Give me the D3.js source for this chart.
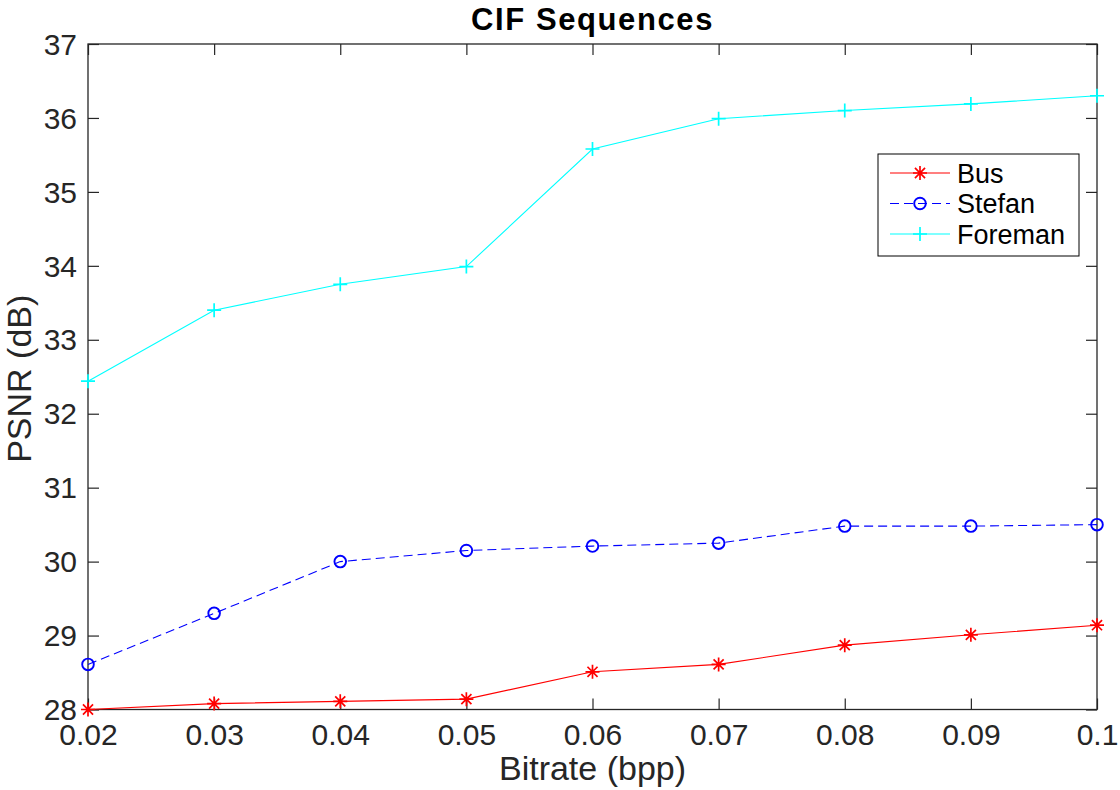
<!DOCTYPE html>
<html>
<head>
<meta charset="utf-8">
<script src="https://cdn.jsdelivr.net/npm/d3@7"></script>
<style>
  html, body { margin: 0; padding: 0; background: #fff; }
  svg text { font-family: "Liberation Sans", Arial, Helvetica, sans-serif; }
</style>
</head>
<body>
<div id="chart"></div>
<script>
// Values
const bitrates = [0.02, 0.03, 0.04, 0.05, 0.06, 0.07, 0.08, 0.09, 0.1];
const busPsnr = [28.0, 28.08, 28.11, 28.14, 28.51, 28.61, 28.87, 29.01, 29.14];
const stefanPsnr = [28.61, 29.3, 30.0, 30.15, 30.21, 30.25, 30.48, 30.48, 30.5];
const foremanPsnr = [32.44, 33.4, 33.75, 33.99, 35.58, 35.99, 36.1, 36.19, 36.3];
const seriesNames = ['Bus', 'Stefan', 'Foreman'];
const xTickLabels = ['0.02', '0.03', '0.04', '0.05', '0.06', '0.07', '0.08', '0.09', '0.1'];
const yTicks = [28, 29, 30, 31, 32, 33, 34, 35, 36, 37];

const W = 1120, H = 790;
const margin = { top: 44, right: 23, bottom: 80.5, left: 88 };
const width = W - margin.left - margin.right;
const height = H - margin.top - margin.bottom;
const AXIS_COLOR = '#262626';
const TICK_LEN = 11;

const series = [
  { name: seriesNames[0], values: busPsnr, color: '#ff0000', dash: null, marker: 'star' },
  { name: seriesNames[1], values: stefanPsnr, color: '#0000ff', dash: '9,5', marker: 'circle' },
  { name: seriesNames[2], values: foremanPsnr, color: '#00ffff', dash: null, marker: 'plus' }
];

const svgRoot = d3.select('#chart').append('svg')
  .attr('width', W).attr('height', H);

const svg = svgRoot.append('g')
  .attr('transform', `translate(${margin.left},${margin.top})`);

const x = d3.scaleLinear().domain([0.02, 0.1]).range([0, width]);
const y = d3.scaleLinear().domain([28, 37]).range([height, 0]);

// inward ticks on all four sides, MATLAB style
function styleAxis(g) {
  g.select('.domain').remove();
  g.selectAll('.tick line').attr('stroke', AXIS_COLOR).attr('stroke-width', 1.2);
  g.selectAll('.tick text')
    .attr('fill', AXIS_COLOR)
    .style('font-size', '30px');
}

svg.append('g')
  .attr('transform', `translate(0,${height})`)
  .call(d3.axisBottom(x).tickValues(bitrates).tickFormat((d, i) => xTickLabels[i])
    .tickSizeInner(-TICK_LEN).tickSizeOuter(0).tickPadding(TICK_LEN + 3))
  .call(styleAxis)
  .selectAll('.tick text').attr('dy', '0.71em');

svg.append('g')
  .call(d3.axisTop(x).tickValues(bitrates).tickFormat('')
    .tickSizeInner(-TICK_LEN).tickSizeOuter(0))
  .call(styleAxis);

svg.append('g')
  .call(d3.axisLeft(y).tickValues(yTicks).tickFormat(d3.format('d'))
    .tickSizeInner(-TICK_LEN).tickSizeOuter(0).tickPadding(TICK_LEN))
  .call(styleAxis)
  .selectAll('.tick text').attr('dy', '0.34em');

svg.append('g')
  .attr('transform', `translate(${width},0)`)
  .call(d3.axisRight(y).tickValues(yTicks).tickFormat('')
    .tickSizeInner(-TICK_LEN).tickSizeOuter(0))
  .call(styleAxis);

svg.append('rect')
  .attr('width', width).attr('height', height)
  .attr('fill', 'none')
  .attr('stroke', AXIS_COLOR)
  .attr('stroke-width', 1.3);

// markers
function drawMarker(sel, type, color) {
  if (type === 'star') {
    const r = 7, d = r * 0.72;
    sel.append('path')
      .attr('d', `M${-r},0H${r}M0,${-r}V${r}M${-d},${-d}L${d},${d}M${-d},${d}L${d},${-d}`)
      .attr('stroke', color).attr('stroke-width', 1.7).attr('fill', 'none');
  } else if (type === 'circle') {
    sel.append('circle').attr('r', 5.8)
      .attr('stroke', color).attr('stroke-width', 1.9).attr('fill', 'none');
  } else {
    const r = 7;
    sel.append('path')
      .attr('d', `M${-r},0H${r}M0,${-r}V${r}`)
      .attr('stroke', color).attr('stroke-width', 1.7).attr('fill', 'none');
  }
}

const line = d3.line()
  .x((d, i) => x(bitrates[i]))
  .y(d => y(d));

series.forEach(s => {
  svg.append('path')
    .attr('d', line(s.values))
    .attr('fill', 'none')
    .attr('stroke', s.color)
    .attr('stroke-width', 1.1)
    .attr('stroke-dasharray', s.dash);

  svg.selectAll(null)
    .data(s.values)
    .join('g')
    .attr('transform', (d, i) => `translate(${x(bitrates[i])},${y(d)})`)
    .each(function () { drawMarker(d3.select(this), s.marker, s.color); });
});

// title and axis labels
svgRoot.append('text')
  .attr('x', margin.left + width / 2).attr('y', 30)
  .attr('text-anchor', 'middle')
  .style('font-size', '31px').style('font-weight', 'bold')
  .style('letter-spacing', '1.6px')
  .attr('fill', '#000')
  .text('CIF Sequences');

svgRoot.append('text')
  .attr('x', margin.left + width / 2).attr('y', 780)
  .attr('text-anchor', 'middle')
  .style('font-size', '34px')
  .attr('fill', AXIS_COLOR)
  .text('Bitrate (bpp)');

svgRoot.append('text')
  .attr('transform', `translate(31,${margin.top + height / 2 + 2}) rotate(-90)`)
  .attr('text-anchor', 'middle')
  .style('font-size', '34px')
  .attr('fill', AXIS_COLOR)
  .text('PSNR (dB)');

// legend
const legend = svgRoot.append('g').attr('transform', 'translate(878,154)');
legend.append('rect')
  .attr('width', 201).attr('height', 102)
  .attr('fill', '#fff').attr('stroke', '#000').attr('stroke-width', 1);

series.forEach((s, i) => {
  const row = legend.append('g').attr('transform', `translate(0,${19 + i * 30.5})`);
  row.append('line')
    .attr('x1', 12).attr('x2', 72)
    .attr('stroke', s.color).attr('stroke-width', 1.1)
    .attr('stroke-dasharray', s.dash);
  drawMarker(row.append('g').attr('transform', 'translate(42,0)'), s.marker, s.color);
  row.append('text')
    .attr('x', 79).attr('dy', '0.36em')
    .style('font-size', '27px')
    .attr('fill', '#000')
    .text(s.name);
});
</script>
</body>
</html>
